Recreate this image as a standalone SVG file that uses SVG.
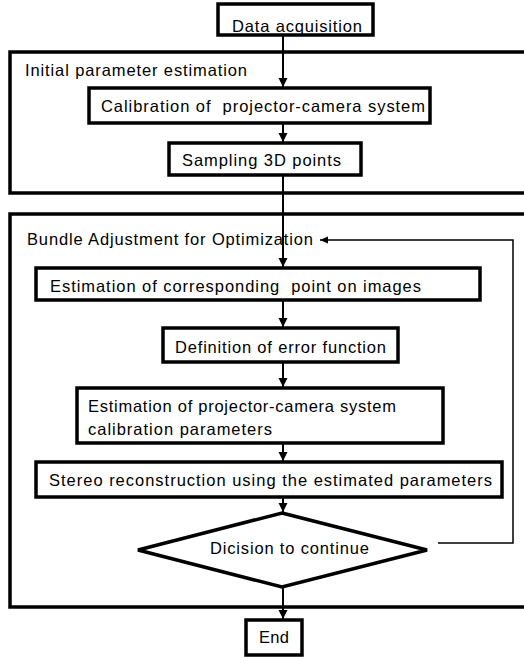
<svg xmlns="http://www.w3.org/2000/svg" width="524" height="657" viewBox="0 0 524 657">
<defs>
<style>
.box{fill:#fff;stroke:#000;stroke-width:3.5}
.grp{fill:none;stroke:#000;stroke-width:3.5}
.t{font-family:"Liberation Sans",Arial,sans-serif;font-size:16.5px;fill:#000}
.c{fill:none;stroke:#000;stroke-width:2}
.fb{fill:none;stroke:#000;stroke-width:1.5}
</style>
<marker id="ah" markerUnits="userSpaceOnUse" markerWidth="10" markerHeight="10" refX="9" refY="4.5" orient="auto">
<path d="M0,0 L9,4.5 L0,9 Z" fill="#000"/>
</marker>
<marker id="ahs" markerUnits="userSpaceOnUse" markerWidth="10" markerHeight="8" refX="8" refY="3.5" orient="auto">
<path d="M0,0 L8,3.5 L0,7 Z" fill="#000"/>
</marker>
</defs>
<rect width="524" height="657" fill="#fff"/>
<g id="group-initial">
<rect class="grp" x="10" y="52" width="530" height="141"/>
<text class="t" x="25" y="76" textLength="222" lengthAdjust="spacing">Initial parameter estimation</text>
</g>
<g id="group-bundle">
<rect class="grp" x="10" y="214" width="530" height="393"/>
<text class="t" x="27" y="245" textLength="286" lengthAdjust="spacing">Bundle Adjustment for Optimization</text>
</g>
<g id="connectors">
<line class="c" x1="283" y1="35" x2="283" y2="87" marker-end="url(#ah)"/>
<line class="c" x1="283" y1="123" x2="283" y2="142" marker-end="url(#ah)"/>
<line class="c" x1="283" y1="175" x2="283" y2="267" marker-end="url(#ah)"/>
<line class="c" x1="283" y1="300" x2="283" y2="327" marker-end="url(#ah)"/>
<line class="c" x1="283" y1="362" x2="283" y2="387" marker-end="url(#ah)"/>
<line class="c" x1="283" y1="443" x2="283" y2="461" marker-end="url(#ah)"/>
<line class="c" x1="283" y1="497" x2="283" y2="512" marker-end="url(#ah)"/>
<line class="c" x1="283" y1="587" x2="283" y2="619" marker-end="url(#ah)"/>
<polyline class="fb" points="438,543 513,543 513,240 320,240" marker-end="url(#ahs)"/>
</g>
<g id="n-data">
<rect class="box" x="218" y="4" width="155" height="31"/>
<text class="t" x="232" y="32" textLength="130" lengthAdjust="spacing">Data acquisition</text>
</g>
<g id="n-calib">
<rect class="box" x="89" y="88" width="341" height="35"/>
<text class="t" x="101" y="112" textLength="324" lengthAdjust="spacing" xml:space="preserve">Calibration of  projector-camera system</text>
</g>
<g id="n-sampling">
<rect class="box" x="169" y="143" width="192" height="32"/>
<text class="t" x="182" y="166" textLength="159" lengthAdjust="spacing">Sampling 3D points</text>
</g>
<g id="n-corr">
<rect class="box" x="36" y="268" width="444" height="32"/>
<text class="t" x="50" y="292" textLength="371" lengthAdjust="spacing" xml:space="preserve">Estimation of corresponding  point on images</text>
</g>
<g id="n-def">
<rect class="box" x="163" y="328" width="235" height="34"/>
<text class="t" x="175" y="353" textLength="211" lengthAdjust="spacing">Definition of error function</text>
</g>
<g id="n-estproj">
<rect class="box" x="77" y="388" width="366" height="55"/>
<text class="t" x="88" y="412" textLength="308" lengthAdjust="spacing">Estimation of projector-camera system</text>
<text class="t" x="88" y="435" textLength="184" lengthAdjust="spacing">calibration parameters</text>
</g>
<g id="n-stereo">
<rect class="box" x="36" y="462" width="466" height="35"/>
<text class="t" x="49" y="486" textLength="443" lengthAdjust="spacing">Stereo reconstruction using the estimated parameters</text>
</g>
<g id="n-decision">
<polygon class="box" points="282,513 427,550 282,587 138,550"/>
<text class="t" x="210" y="554" textLength="159" lengthAdjust="spacing">Dicision to continue</text>
</g>
<g id="n-end">
<rect class="box" x="246" y="620" width="56" height="35"/>
<text class="t" x="259" y="643" textLength="30" lengthAdjust="spacing">End</text>
</g>
</svg>
